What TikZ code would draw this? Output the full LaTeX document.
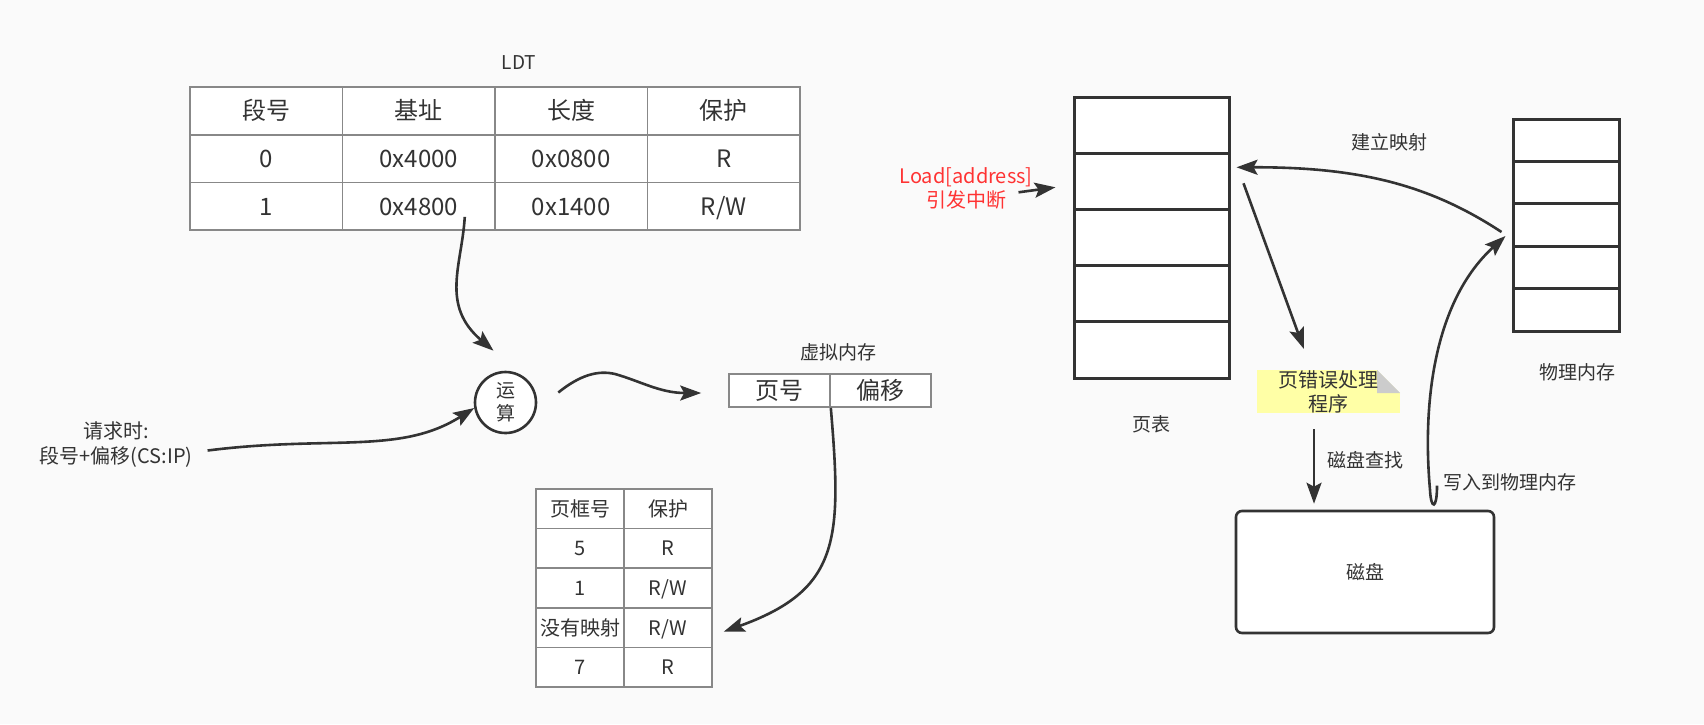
\documentclass[tikz,border=0pt]{standalone}
\usepackage{fontspec}
\setmainfont{Noto Sans CJK SC}
\usetikzlibrary{arrows.meta, positioning, calc}
\definecolor{ink}{HTML}{333333}
\definecolor{rule}{HTML}{888888}
\definecolor{paper}{HTML}{FAFAFA}
\definecolor{alert}{HTML}{FF3333}
\definecolor{notefill}{HTML}{FFFFA6}
\definecolor{fold}{HTML}{CCCCCC}
\newcommand{\fs}[2]{\fontsize{#1}{#2}\selectfont}

\begin{document}
\begin{tikzpicture}[x=1pt, y=-1pt, on grid, node distance=47.7pt and 152.5pt,
    txt/.style={text=ink, inner sep=0pt, align=center, font=\fs{19}{24}},
    cell/.style={draw=rule, line width=1.6pt, fill=white, inner sep=0pt, text=ink,
        minimum width=152.5pt, minimum height=47.7pt, text height=20.9pt, text depth=3.1pt,
        font=\fs{24}{28}},
    pgcell/.style={cell, minimum width=88pt, minimum height=39.6pt, text height=17.4pt, text depth=2.6pt,
        font=\fs{20}{24}},
    vcell/.style={cell, minimum width=101pt, minimum height=33pt},
    slot/.style={draw=ink, line width=3pt, fill=white, inner sep=0pt},
    notebox/.style={txt, fill=notefill, minimum width=143pt, minimum height=43pt, font=\fs{20}{24},
        path picture={
            \fill[paper] (path picture bounding box.north east) -- ++(-23,0) -- ++(23,23) -- cycle;
            \fill[fold] (path picture bounding box.north east) ++(-23,0) -- ++(23,23) -- ++(-23,0) -- cycle;
        }},
    flow/.style={draw=ink, line width=2.6pt, -{Stealth[length=21pt, width=15pt, inset=4pt]}}]
    \path[use as bounding box, fill=paper] (0,0) rectangle (1704,724);

    \node[txt] (ldt-name) at (519,63) {LDT};
    \foreach \a/\b/\c/\d [count=\r] in {段号/基址/长度/保护, 0/0x4000/0x0800/R, 1/0x4800/0x1400/{R/W}} {
        \node[cell] (ldt-\r-1) at (266.25, 63.3+47.7*\r) {\a};
        \node[cell, right=of ldt-\r-1] (ldt-\r-2) {\b};
        \node[cell, right=of ldt-\r-2] (ldt-\r-3) {\c};
        \node[cell, right=of ldt-\r-3] (ldt-\r-4) {\d};
    }

    \node[circle, draw=ink, line width=2.6pt, fill=white, minimum size=61pt, txt, font=\fs{19}{23}] (op) at (505.5,402.5) {运\\算};
    \node[txt, font=\fs{20}{25}] (req) at (116,444.5) {请求时:\\段号+偏移(CS:IP)};

    \node[txt] (vm-name) at (838,352) {虚拟内存};
    \node[vcell] (vm-1) at (779.5,390.5) {页号};
    \node[vcell, right=101pt of vm-1] (vm-2) {偏移};

    \begin{scope}[node distance=39.6pt and 88pt]
        \foreach \a/\b [count=\r] in {页框号/保护, 5/R, 1/{R/W}, 没有映射/{R/W}, 7/R} {
            \node[pgcell] (pg-\r-1) at (580, 469.2+39.6*\r) {\a};
            \node[pgcell, right=of pg-\r-1] (pg-\r-2) {\b};
        }
    \end{scope}

    \foreach \i in {1,...,5}
        \node[slot, minimum width=155pt, minimum height=56.2pt] (pt-\i) at (1151.5, 68.9+56.2*\i) {};
    \node[txt, below=74pt of pt-5] (pt-name) {页表};
    \node[txt, text=alert, font=\fs{20}{24}] (load) at (966,188) {Load[address]\\引发中断};

    \foreach \i in {1,...,5}
        \node[slot, minimum width=106pt, minimum height=42.4pt] (ph-\i) at (1566, 97.8+42.4*\i) {};
    \node[txt] (ph-name) at (1577,372) {物理内存};

    \node[notebox] (fault) at (1328.5,391.5) {页错误处理\\程序};
    \node[draw=ink, line width=2.6pt, rounded corners=6pt, fill=white, minimum width=258pt, minimum height=122pt, txt] (disk) at (1365,572) {磁盘};

    \node[txt] (map-label) at (1389,142) {建立映射};
    \node[txt] (seek-label) at (1365,460) {磁盘查找};
    \node[txt] (write-label) at (1510,482) {写入到物理内存};

    \draw[flow] ($(ldt-3-2.center)+(46,10.5)$) .. controls (462,265) and (440,305) .. ($(op.north)+(-12,-20)$);
    \draw[flow] ($(req.east)+(15,6)$) .. controls (330,435) and (400,455) .. (op.190);
    \draw[flow] ($(op.east)+(21,-10)$) .. controls (580,375) and (598,370) .. (615,374)
        .. controls (640,381) and (660,393) .. ($(vm-1.west)+(-27,2.5)$);
    \draw[flow] (vm-1.south east) .. controls (842,540) and (840,590) .. ($(pg-4-2.east)+(11,4)$);
    \draw[flow] ($(pt-2.west)+(-54,11)$) -- ($(pt-2.west)+(-17,6)$);
    \draw[flow] ($(pt-2.east)+(13,2)$) -- ($(fault.north west)+(47,-21)$);
    \draw[flow] ($(fault.south)+(-14.5,16)$) -- ($(disk.north)+(-51,-6)$);
    \draw[flow] ($(disk.north)+(72,-24)$) .. controls (1437,510) and (1431,510) .. (1430,490)
        .. controls (1422,400) and (1435,300) .. ($(ph-3.west)+(-6,11)$);
    \draw[flow] ($(ph-3.west)+(-10,7)$) .. controls (1430,185) and (1360,167) .. ($(pt-2.east)+(6,-14)$);
\end{tikzpicture}
\end{document}
